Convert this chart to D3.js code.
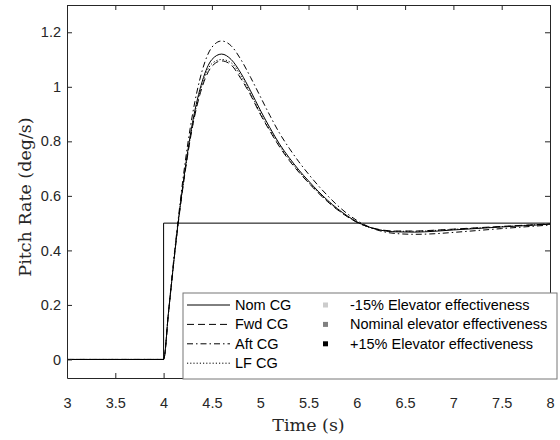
<!DOCTYPE html>
<html>
<head>
<meta charset="utf-8">
<script src="https://cdn.jsdelivr.net/npm/d3@7"></script>
<style>
  body { margin: 0; background: #fff; }
  svg { display: block; }
</style>
</head>
<body>
<div id="chart"></div>
<script>
// sample times (s)
var times = [3, 4, 4.05, 4.1, 4.15, 4.2, 4.3, 4.4, 4.5, 4.6, 4.7, 4.8, 4.9, 5.0, 5.1, 5.2, 5.3, 5.4, 5.5, 5.6, 5.7, 5.8, 5.9, 6.0, 6.2, 6.4, 6.6, 6.8, 7.0, 7.5, 8.0];

// pitch rate per CG position (deg/s)
var nomCG = [0, 0, 0.17, 0.34, 0.50, 0.64, 0.87, 1.02, 1.10, 1.12, 1.10, 1.05, 0.985, 0.915, 0.85, 0.79, 0.74, 0.695, 0.655, 0.617, 0.583, 0.553, 0.527, 0.505, 0.478, 0.468, 0.467, 0.47, 0.475, 0.486, 0.496];
var fwdCG = [0, 0, 0.17, 0.34, 0.495, 0.63, 0.855, 1.00, 1.075, 1.095, 1.08, 1.03, 0.97, 0.90, 0.838, 0.78, 0.73, 0.687, 0.648, 0.611, 0.578, 0.549, 0.524, 0.503, 0.479, 0.471, 0.471, 0.474, 0.478, 0.488, 0.497];
var aftCG = [0, 0, 0.17, 0.35, 0.51, 0.66, 0.90, 1.06, 1.145, 1.168, 1.15, 1.10, 1.035, 0.965, 0.895, 0.83, 0.775, 0.725, 0.68, 0.638, 0.60, 0.565, 0.535, 0.51, 0.476, 0.462, 0.459, 0.461, 0.466, 0.48, 0.493];
var lfCG  = [0, 0, 0.17, 0.34, 0.50, 0.635, 0.86, 1.01, 1.085, 1.10, 1.088, 1.04, 0.975, 0.905, 0.842, 0.784, 0.734, 0.69, 0.65, 0.613, 0.58, 0.55, 0.525, 0.504, 0.478, 0.47, 0.47, 0.473, 0.477, 0.487, 0.497];

// commanded step
var cmdTimes = [3, 4, 4, 8];
var cmdValues = [0, 0, 0.5, 0.5];

var xTicks = [3, 3.5, 4, 4.5, 5, 5.5, 6, 6.5, 7, 7.5, 8];
var yTicks = [0, 0.2, 0.4, 0.6, 0.8, 1, 1.2];

var cgNames = ["Nom CG", "Fwd CG", "Aft CG", "LF CG"];
var cgDash = ["", "7,4", "6,3,1.5,3", "1.2,2"];
var effNames = ["-15% Elevator effectiveness", "Nominal elevator effectiveness", "+15% Elevator effectiveness"];
var effColors = ["#cccccc", "#808080", "#000000"];

var width = 560, height = 440;
var margin = {top: 5, right: 10, bottom: 62, left: 67};
var w = 550 - margin.left, h = 378 - margin.top;

var svg = d3.select("#chart").append("svg")
    .attr("width", width)
    .attr("height", height);

var g = svg.append("g")
    .attr("transform", "translate(" + margin.left + "," + margin.top + ")");

var x = d3.scaleLinear().domain([3, 8]).range([0, w]);
var y = d3.scaleLinear().domain([-0.068, 1.3]).range([h, 0]);

var axisColor = "#262626";

// curves
var line = d3.line()
    .x(function(d) { return x(d[0]); })
    .y(function(d) { return y(d[1]); })
    .curve(d3.curveMonotoneX);

var stepLine = d3.line()
    .x(function(d) { return x(d[0]); })
    .y(function(d) { return y(d[1]); });

g.append("path")
    .datum(d3.zip(cmdTimes, cmdValues))
    .attr("fill", "none")
    .attr("stroke", "#000")
    .attr("stroke-width", 1)
    .attr("d", stepLine);

var series = [nomCG, fwdCG, aftCG, lfCG];
series.forEach(function(vals, i) {
    g.append("path")
        .datum(d3.zip(times, vals))
        .attr("fill", "none")
        .attr("stroke", "#000")
        .attr("stroke-width", 1)
        .attr("stroke-dasharray", cgDash[i])
        .attr("d", line);
});

// axes, ticks pointing inward
var fontSans = "'Liberation Sans', Arial, Helvetica, sans-serif";
var fontSerif = "'DejaVu Serif', 'Liberation Serif', serif";

var xAxis = g.append("g")
    .attr("transform", "translate(0," + h + ")")
    .call(d3.axisBottom(x).tickValues(xTicks).tickSizeInner(-5).tickSizeOuter(0).tickPadding(20).tickFormat(d3.format("")));
var yAxis = g.append("g")
    .call(d3.axisLeft(y).tickValues(yTicks).tickSizeInner(-5).tickSizeOuter(0).tickPadding(6).tickFormat(d3.format("")));
var xTop = g.append("g")
    .call(d3.axisTop(x).tickValues(xTicks).tickSizeInner(-5).tickSizeOuter(0).tickFormat(""));
var yRight = g.append("g")
    .attr("transform", "translate(" + w + ",0)")
    .call(d3.axisRight(y).tickValues(yTicks).tickSizeInner(-5).tickSizeOuter(0).tickFormat(""));

[xAxis, yAxis, xTop, yRight].forEach(function(a) {
    a.selectAll("path").attr("stroke", axisColor);
    a.selectAll("line").attr("stroke", axisColor);
    a.selectAll("text")
        .attr("fill", axisColor)
        .style("font-family", fontSans)
        .style("font-size", "14.5px");
});

// axis labels
svg.append("text")
    .attr("x", margin.left + w / 2)
    .attr("y", 431)
    .attr("text-anchor", "middle")
    .style("font-family", fontSerif)
    .style("font-size", "17.5px")
    .attr("fill", axisColor)
    .text("Time (s)");

svg.append("text")
    .attr("transform", "translate(31," + 197 + ") rotate(-90)")
    .attr("text-anchor", "middle")
    .style("font-family", fontSerif)
    .style("font-size", "17.5px")
    .attr("fill", axisColor)
    .text("Pitch Rate (deg/s)");

// legend
var legend = svg.append("g").attr("transform", "translate(183,293)");
legend.append("rect")
    .attr("width", 374)
    .attr("height", 86)
    .attr("fill", "#fff")
    .attr("stroke", "#777")
    .attr("stroke-width", 1);

cgNames.forEach(function(name, i) {
    var ly = 12 + i * 19.4;
    legend.append("line")
        .attr("x1", 4).attr("x2", 47)
        .attr("y1", ly).attr("y2", ly)
        .attr("stroke", "#000")
        .attr("stroke-dasharray", cgDash[i]);
    legend.append("text")
        .attr("x", 52).attr("y", ly)
        .attr("dy", "0.35em")
        .style("font-family", fontSans)
        .style("font-size", "14.5px")
        .text(name);
});

effNames.forEach(function(name, i) {
    var ly = 12 + i * 19.4;
    legend.append("rect")
        .attr("x", 140).attr("y", ly - 2.5)
        .attr("width", 5).attr("height", 5)
        .attr("fill", effColors[i]);
    legend.append("text")
        .attr("x", 167).attr("y", ly)
        .attr("dy", "0.35em")
        .style("font-family", fontSans)
        .style("font-size", "14.5px")
        .text(name);
});
</script>
</body>
</html>
